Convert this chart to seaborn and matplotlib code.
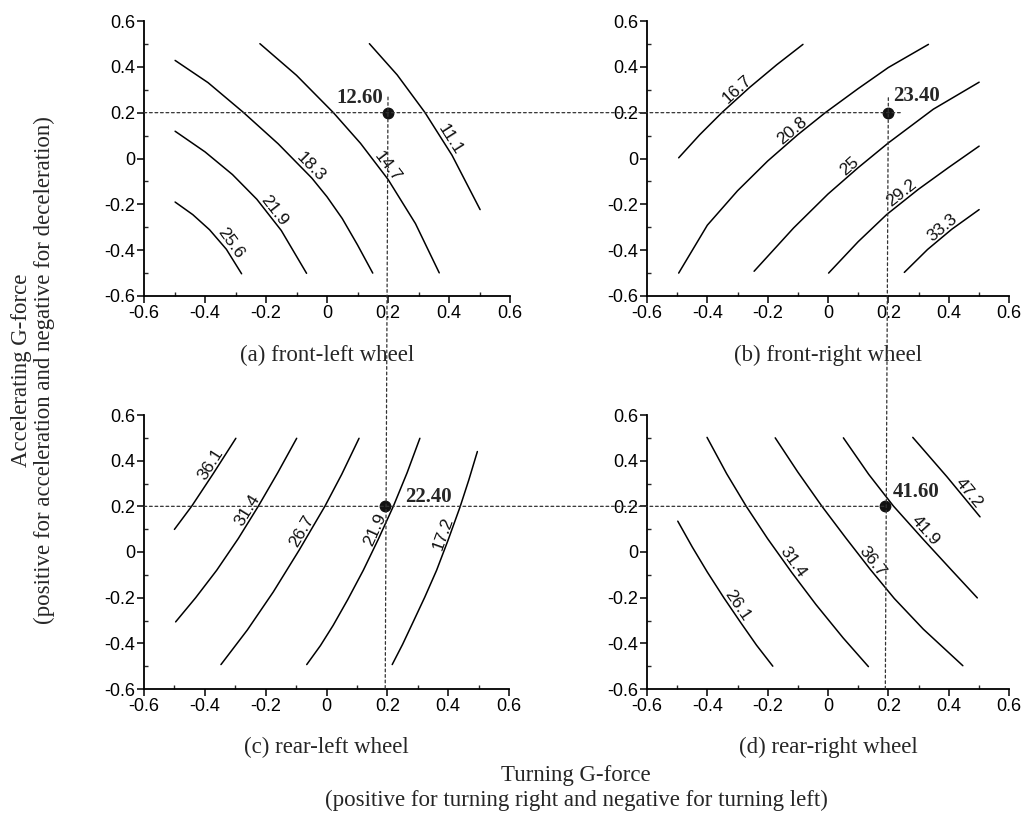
import numpy as np
import seaborn as sns
import matplotlib.pyplot as plt
from matplotlib.patches import ConnectionPatch
from matplotlib.ticker import MultipleLocator, FuncFormatter

sns.set_style("ticks")
plt.rcParams['font.family'] = ['Liberation Sans', 'DejaVu Sans']
plt.rcParams['axes.unicode_minus'] = False

SERIF = ['Liberation Serif', 'DejaVu Serif']

# contour lines (turning g, accelerating g)
# (a) front-left wheel
fl_levels = ['25.6', '21.9', '18.3', '14.7', '11.1']
fl_x = [[-0.498, -0.44, -0.385, -0.33, -0.28],
        [-0.498, -0.4, -0.31, -0.23, -0.15, -0.067],
        [-0.498, -0.39, -0.274, -0.16, -0.05, 0.0, 0.05, 0.1, 0.15],
        [-0.22, -0.1, 0.021, 0.11, 0.2, 0.29, 0.368],
        [0.139, 0.23, 0.321, 0.41, 0.502]]
fl_y = [[-0.19, -0.245, -0.311, -0.396, -0.503],
        [0.119, 0.029, -0.07, -0.178, -0.314, -0.501],
        [0.428, 0.331, 0.201, 0.064, -0.085, -0.167, -0.262, -0.377, -0.5],
        [0.501, 0.363, 0.2, 0.066, -0.091, -0.284, -0.499],
        [0.501, 0.365, 0.201, 0.014, -0.223]]
fl_lab_x = [-0.335, -0.19, -0.07, 0.18, 0.385]

# (b) front-right wheel
fr_levels = ['16.7', '20.8', '25', '29.2', '33.3']
fr_x = [[-0.495, -0.425, -0.352, -0.26, -0.17, -0.083],
        [-0.495, -0.4, -0.3, -0.2, -0.1, -0.009, 0.1, 0.2, 0.333],
        [-0.245, -0.114, 0.0, 0.1, 0.2, 0.349, 0.501],
        [0.002, 0.1, 0.195, 0.3, 0.4, 0.501],
        [0.253, 0.33, 0.41, 0.501]]
fr_y = [[0.003, 0.104, 0.2, 0.31, 0.409, 0.498],
        [-0.5, -0.291, -0.141, -0.011, 0.104, 0.2, 0.305, 0.397, 0.498],
        [-0.492, -0.303, -0.155, -0.04, 0.068, 0.215, 0.333],
        [-0.5, -0.363, -0.244, -0.134, -0.039, 0.054],
        [-0.497, -0.397, -0.309, -0.223]]
fr_lab_x = [-0.285, -0.105, 0.085, 0.26, 0.395]

# (c) rear-left wheel
rl_levels = ['36.1', '31.4', '26.7', '21.9', '17.2']
rl_x = [[-0.5, -0.443, -0.372, -0.298],
        [-0.496, -0.43, -0.361, -0.29, -0.224, -0.16, -0.098],
        [-0.347, -0.26, -0.175, -0.09, -0.005, 0.05, 0.107],
        [-0.065, -0.02, 0.022, 0.07, 0.121, 0.17, 0.22, 0.265, 0.307],
        [0.216, 0.25, 0.285, 0.323, 0.362, 0.4, 0.439, 0.468, 0.496]]
rl_y = [[0.099, 0.201, 0.344, 0.498],
        [-0.306, -0.2, -0.08, 0.059, 0.201, 0.348, 0.498],
        [-0.493, -0.341, -0.175, 0.008, 0.201, 0.34, 0.498],
        [-0.493, -0.41, -0.321, -0.208, -0.08, 0.055, 0.201, 0.347, 0.498],
        [-0.493, -0.405, -0.306, -0.198, -0.08, 0.053, 0.197, 0.316, 0.44]]
rl_lab_x = [-0.36, -0.24, -0.06, 0.18, 0.405]

# (d) rear-right wheel
rr_levels = ['26.1', '31.4', '36.7', '41.9', '47.2']
rr_x = [[-0.498, -0.45, -0.4, -0.345, -0.291, -0.237, -0.183],
        [-0.401, -0.336, -0.271, -0.2, -0.12, -0.04, 0.05, 0.134],
        [-0.175, -0.1, -0.02, 0.06, 0.14, 0.22, 0.316, 0.447],
        [0.051, 0.135, 0.217, 0.316, 0.41, 0.495],
        [0.281, 0.394, 0.504]]
rr_y = [[0.135, 0.022, -0.088, -0.201, -0.306, -0.408, -0.5],
        [0.502, 0.343, 0.2, 0.058, -0.09, -0.23, -0.376, -0.502],
        [0.5, 0.35, 0.2, 0.06, -0.076, -0.204, -0.338, -0.498],
        [0.5, 0.34, 0.201, 0.055, -0.08, -0.201],
        [0.502, 0.33, 0.154]]
rr_lab_x = [-0.32, -0.135, 0.13, 0.305, 0.45]

# operating points and their values
pt_x = [0.2, 0.2, 0.193, 0.19]
pt_y = [0.2, 0.2, 0.2, 0.2]
pt_val = ['12.60', '23.40', '22.40', '41.60']

titles = ['(a) front-left wheel', '(b) front-right wheel',
          '(c) rear-left wheel', '(d) rear-right wheel']

W, H = 1026, 816
fig = plt.figure(figsize=(W / 100, H / 100), dpi=100)

# axes boxes in pixels: left, top, right, bottom
boxes = [(144, 21, 510, 296), (647, 21, 1009, 296),
         (144, 415, 509, 689), (647, 415, 1009, 689)]
axes = []
for (l, t, r, b) in boxes:
    ax = fig.add_axes([l / W, 1 - b / H, (r - l) / W, (b - t) / H])
    ax.set_xlim(-0.6, 0.6)
    ax.set_ylim(-0.6, 0.6)
    axes.append(ax)


def fmt(v, pos):
    if abs(v) < 1e-9:
        return '0'
    return f'{v:.1f}'


def put_label(ax, xs, ys, x0, text, off=7):
    y0 = np.interp(x0, xs, ys)
    y1 = np.interp(x0 + 0.01, xs, ys)
    p0 = ax.transData.transform((x0, y0))
    p1 = ax.transData.transform((x0 + 0.01, y1))
    dx, dy = p1 - p0
    ang = np.degrees(np.arctan2(dy, dx))
    n = np.array([-dy, dx]) / np.hypot(dx, dy)
    if n[1] < 0:
        n = -n
    ax.annotate(text, (x0, y0), xytext=(n[0] * off, n[1] * off),
                textcoords='offset pixels', rotation=ang,
                rotation_mode='anchor', ha='center', va='center',
                fontsize=12.5, color='#111111')


panels = [(fl_levels, fl_x, fl_y, fl_lab_x), (fr_levels, fr_x, fr_y, fr_lab_x),
          (rl_levels, rl_x, rl_y, rl_lab_x), (rr_levels, rr_x, rr_y, rr_lab_x)]

for i, ax in enumerate(axes):
    levels, xs, ys, labx = panels[i]
    for lev, cx, cy, lx in zip(levels, xs, ys, labx):
        sns.lineplot(x=cx, y=cy, sort=False, estimator=None, ax=ax,
                     color='black', linewidth=1.1)
        put_label(ax, cx, cy, lx, lev)

    ax.plot(pt_x[i], pt_y[i], 'o', color='#111111', markersize=7.5, zorder=5)

    sns.despine(ax=ax)
    for s in ['left', 'bottom']:
        ax.spines[s].set_linewidth(1.3)
        ax.spines[s].set_color('black')
    ax.xaxis.set_major_locator(MultipleLocator(0.2))
    ax.yaxis.set_major_locator(MultipleLocator(0.2))
    ax.xaxis.set_minor_locator(MultipleLocator(0.1))
    ax.yaxis.set_minor_locator(MultipleLocator(0.1))
    ax.xaxis.set_major_formatter(FuncFormatter(fmt))
    ax.yaxis.set_major_formatter(FuncFormatter(fmt))
    ax.tick_params(which='major', direction='out', length=5, width=1.1,
                   labelsize=13, pad=1.5, colors='black')
    ax.tick_params(which='minor', direction='in', length=3, width=1.0)
    ax.set_xlabel('')
    ax.set_ylabel('')
    ax.text(0.5, -59 / 275, titles[i], transform=ax.transAxes,
            ha='center', va='center', fontsize=16.5, family=SERIF)

# bold values next to the operating points
axes[0].text(0.185, 0.265, pt_val[0], ha='right', va='center',
             fontsize=15, fontweight='bold', family=SERIF)
axes[1].text(0.215, 0.272, pt_val[1], ha='left', va='center',
             fontsize=15, fontweight='bold', family=SERIF)
axes[2].text(0.258, 0.242, pt_val[2], ha='left', va='center',
             fontsize=15, fontweight='bold', family=SERIF)
axes[3].text(0.215, 0.264, pt_val[3], ha='left', va='center',
             fontsize=15, fontweight='bold', family=SERIF)

# dotted guide lines across the panels
dash = dict(linestyle=(0, (2.2, 2.2)), linewidth=0.9, color='#333333', zorder=10)
guides = [
    (axes[0], (-0.6, 0.2), axes[1], (0.245, 0.2)),
    (axes[2], (-0.6, 0.2), axes[3], (pt_x[3], 0.2)),
    (axes[0], (pt_x[0], 0.268), axes[2], (pt_x[2], -0.6)),
    (axes[1], (pt_x[1], 0.265), axes[3], (pt_x[3], -0.6)),
]
for axA, pA, axB, pB in guides:
    con = ConnectionPatch(xyA=pA, coordsA=axA.transData,
                          xyB=pB, coordsB=axB.transData, **dash)
    fig.add_artist(con)

# shared axis titles
fig.text(22 / W, 1 - 370 / H, 'Accelerating G-force', rotation=90,
         ha='center', va='center', fontsize=16.5, family=SERIF)
fig.text(44 / W, 1 - 370 / H,
         '(positive for acceleration and negative for deceleration)',
         rotation=90, ha='center', va='center', fontsize=16.5, family=SERIF)
fig.text(576 / W, 1 - 775 / H, 'Turning G-force', ha='center', va='center',
         fontsize=16.5, family=SERIF)
fig.text(576 / W, 1 - 800 / H,
         '(positive for turning right and negative for turning left)',
         ha='center', va='center', fontsize=16.5, family=SERIF)

fig.savefig('out.png', dpi=100)
